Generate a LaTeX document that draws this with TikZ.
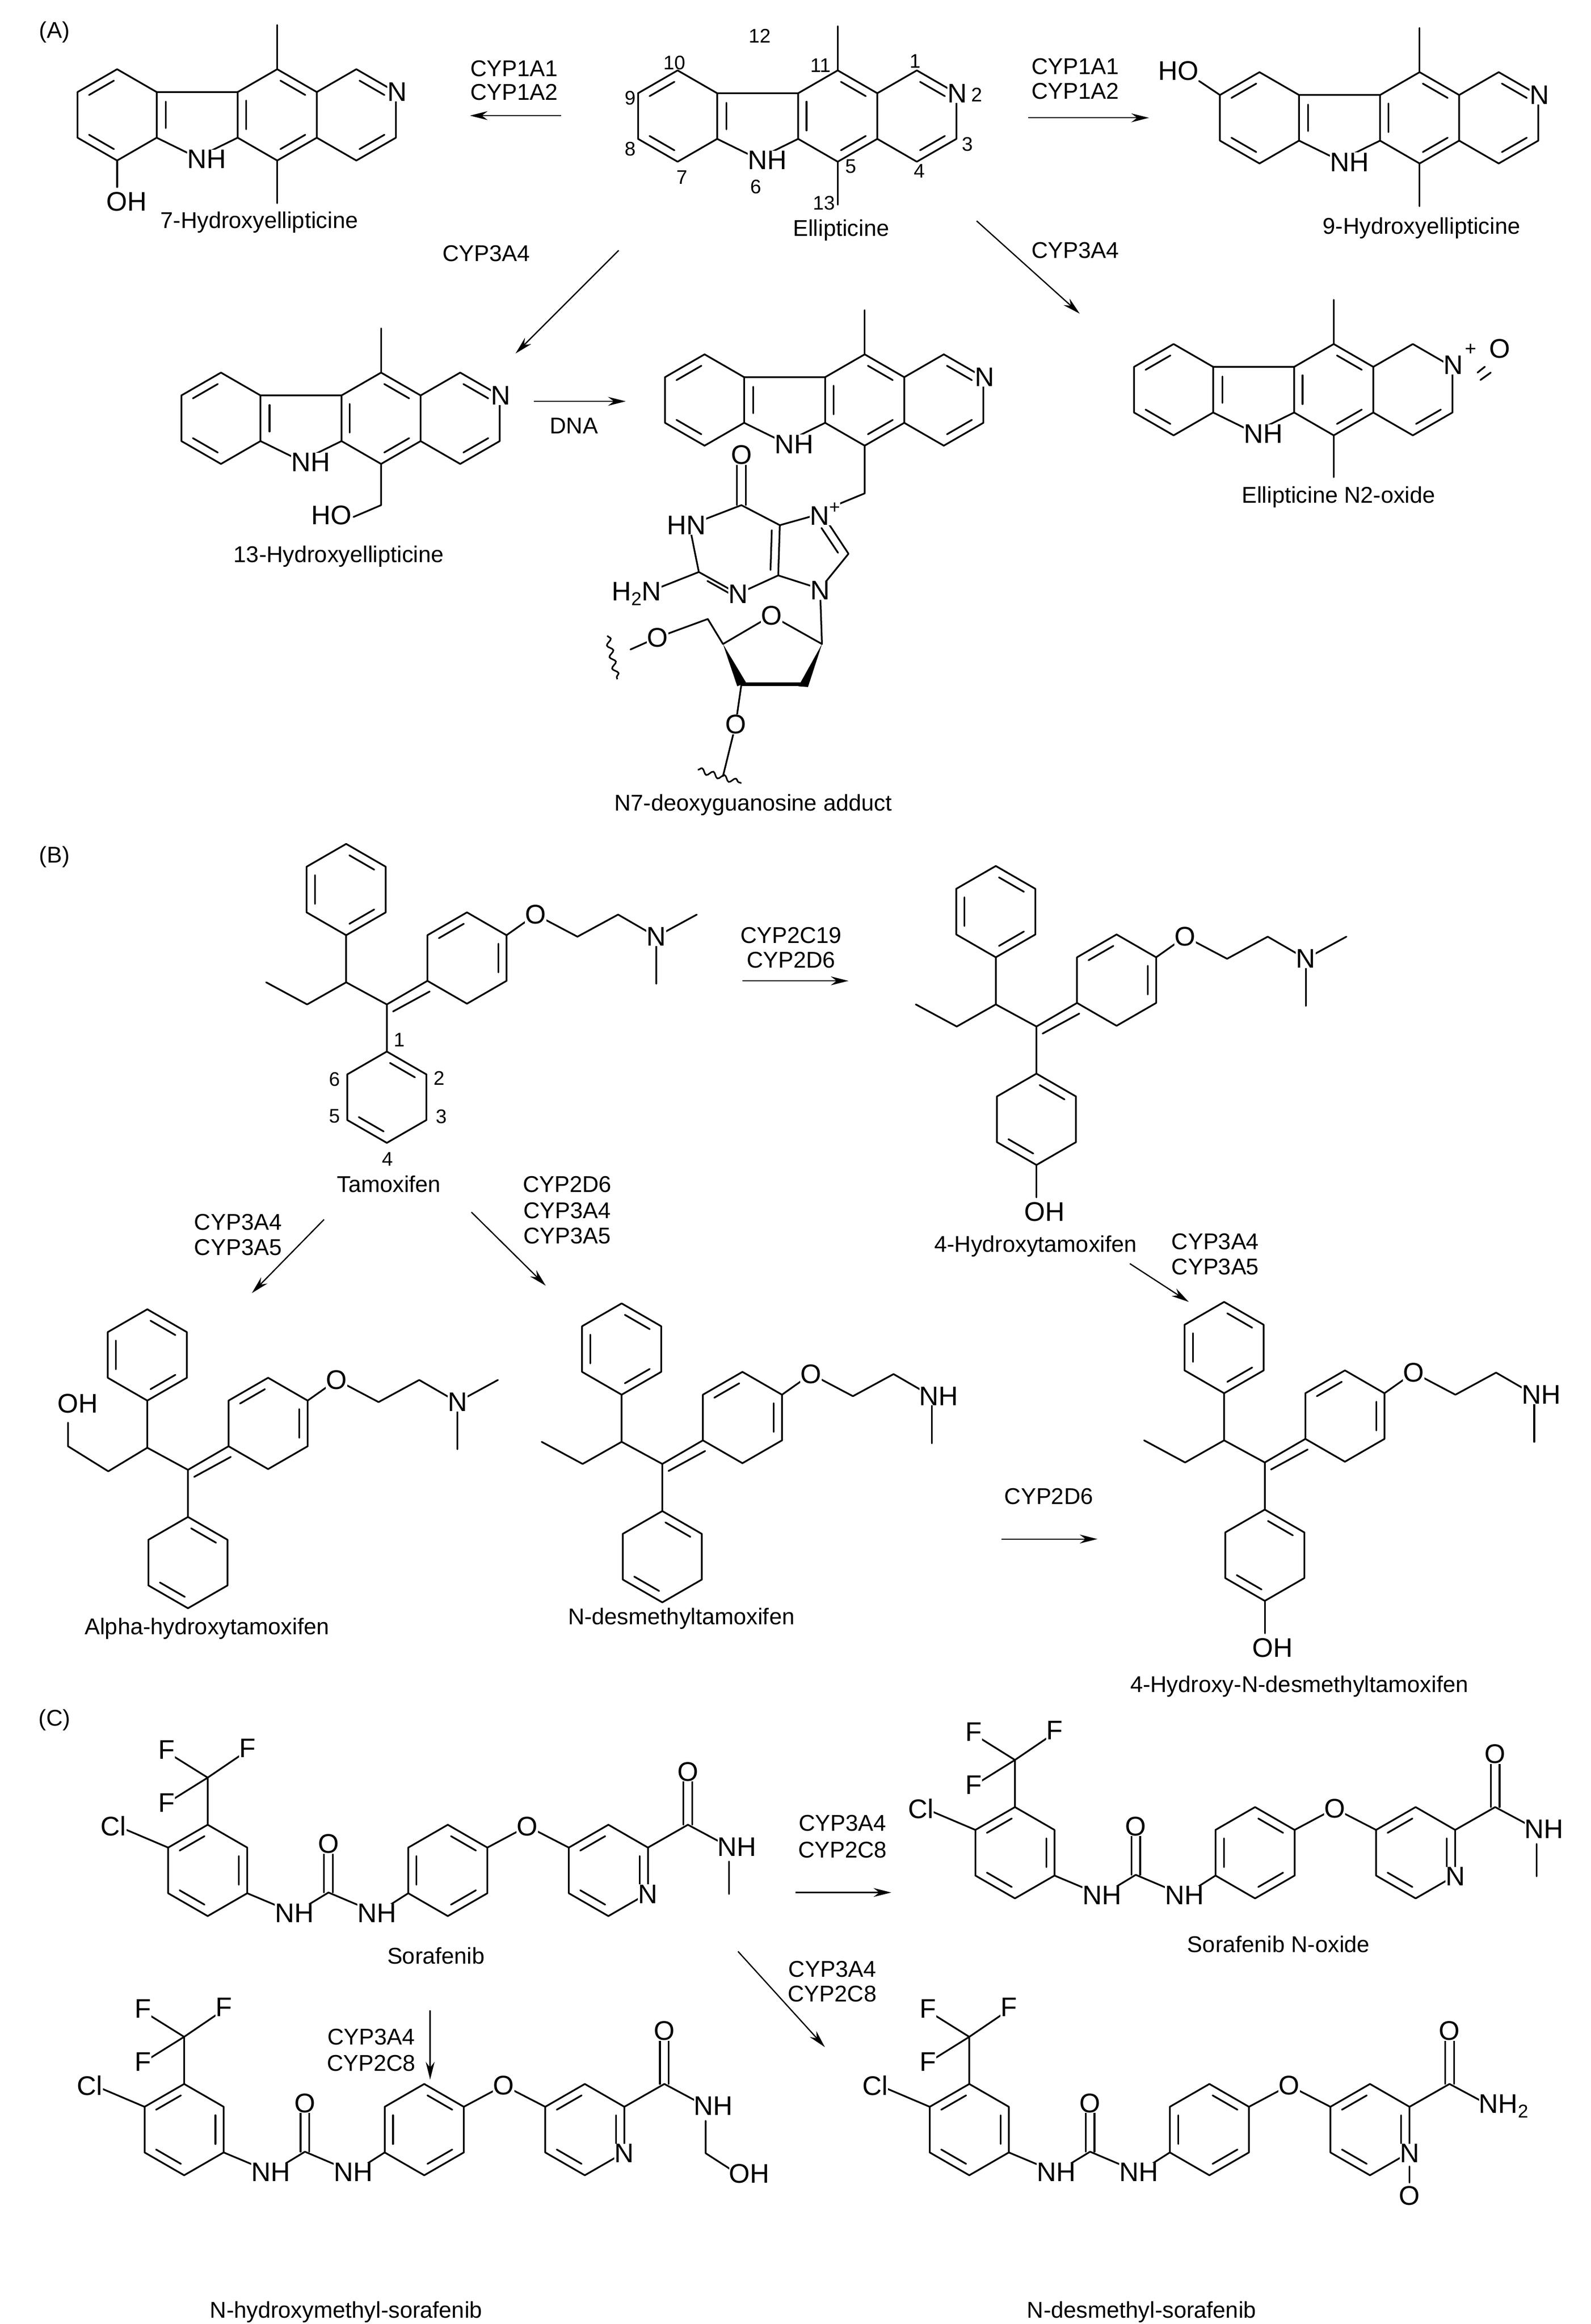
\documentclass[tikz,border=0pt]{standalone}
\usepackage{fontspec}
\setmainfont{Liberation Sans}
\usetikzlibrary{arrows.meta,decorations.pathmorphing}
\newcommand\afont{\fontsize{52}{56}\selectfont}
\newcommand\lfont{\fontsize{44}{50}\selectfont}
\newcommand\nfont{\fontsize{38}{42}\selectfont}
\newcommand\subtwo{\raisebox{-0.35ex}{\fontsize{36}{36}\selectfont 2}}
\newcommand\supplus{\raisebox{0.8ex}{\fontsize{36}{36}\selectfont +}}
\tikzset{
 bd/.style={line width=3.3pt, line cap=round, line join=round},
 atom/.style={font=\afont, fill=white, inner sep=0.5pt},
 lab/.style={font=\lfont, inner sep=0pt},
 num/.style={font=\nfont, inner sep=0pt},
 arr/.style={line width=2.4pt, -{Stealth[length=12mm,width=6mm]}},
 wavy/.style={line width=3pt, decorate, decoration={snake, amplitude=1.8mm, segment length=8mm}}
}
\newcommand\hexr[3]{\draw[bd] (#1,#2) ++(-90:31) -- ++(30:31) -- ++(90:31) -- ++(150:31) -- ++(210:31) -- ++(270:31) -- cycle;
 \foreach \q in {#3}{\inl{#1}{#2}{\q}}}
\newcommand\inl[3]{\draw[bd,shorten <=2.5mm,shorten >=2.5mm] (#1,#2) ++(#3:24.5) -- ++(#3+120:24.5);}
\newcommand\ellcore[3]{\begin{scope}[shift={(#2,#3)}]
 \draw[bd] (0,0) ++(-90:31) -- ++(30:31) -- ++(90:31) -- ++(150:31) -- ++(210:31) -- ++(270:31) -- cycle;
 \inl{0}{0}{210}\inl{0}{0}{90}
 \draw[bd] (26.85,-15.5)--(81.85,-15.5) (26.85,15.5)--(54.35,29)--(81.85,15.5);
 \draw[bd] (33,-9)--(33,9);
 \draw[bd] (81.85,-15.5)--(108.7,-31)--(135.55,-15.5)--(135.55,15.5)--(108.7,31)--(81.85,15.5)--cycle;
 \inl{108.7}{0}{150}\inl{108.7}{0}{-90}\inl{108.7}{0}{30}
 \draw[bd] (108.7,-31)--(108.7,-61);
 \draw[bd] (135.55,-15.5)--(162.4,-31)--(189.25,-15.5)--(189.25,15.5)--(162.4,31)--(135.55,15.5);
 \inl{162.4}{0}{30}
 \node[atom] (#1nh) at (61,30) {NH};
\end{scope}}
\newcommand\ellN[3]{\begin{scope}[shift={(#2,#3)}]\inl{162.4}{0}{-90}
 \node[atom] (#1n) at (190,-15.5) {N};\end{scope}}
\newcommand\tamcore[1]{
 \hexr{235}{604}{-90,150,30}
 \draw[bd] (235,635)--(235,667)--(262.6,682)--(262.6,714);
 \draw[bd,shorten <=1.5mm,shorten >=1.5mm] (265.5,687.5)--(293,672.5);
 \hexr{317}{650.5}{210,-30}
 \draw[bd] (262.6,682)--(290.15,666);
 \hexr{262.6}{745}{-90,90}
 \draw[bd] (343.85,635)--(363.6,621)--(392,636)--(419.6,621)--(445.5,636);
 \node[atom] (#1o) at (363.6,621) {O};}
\newcommand\sorcore[1]{
 \hexr{141}{1270}{210,-30,90}
 \draw[bd] (114.15,1254.5)--(80,1240);
 \node[atom] (#1cl) at (77,1240) {Cl};
 \draw[bd] (141,1239)--(141,1207)--(117,1192) (141,1207)--(163,1192) (141,1207)--(117,1222);
 \node[atom] (#1fa) at (113,1188) {F};
 \node[atom] (#1fb) at (168,1187) {F};
 \node[atom] (#1fc) at (113,1224) {F};
 \draw[bd] (167.85,1285.5)--(200,1299)--(223,1285)--(256,1299)--(277.15,1285.5);
 \draw[bd] (220,1285)--(220,1254) (226,1285)--(226,1254);
 \node[atom] (#1nha) at (200,1299) {NH};
 \node[atom] (#1nhb) at (256,1299) {NH};
 \node[atom] (#1ou) at (223,1252) {O};
 \hexr{304}{1270}{-90,30,150}
 \draw[bd] (330.85,1254.5)--(358,1240)--(386.15,1254.5);
 \node[atom] (#1oe) at (358,1240) {O};
 \hexr{413}{1270}{210,-30,90}
 \draw[bd] (439.85,1254.5)--(467,1239)--(495,1254);
 \draw[bd] (464,1239)--(464,1207) (470,1239)--(470,1207);
 \node[atom] (#1oa) at (467,1203) {O};
 \node[atom] (#1np) at (439.85,1286) {N};}
\begin{document}
\begin{tikzpicture}[x=1mm,y=-1mm]
\useasboundingbox[fill=white] (0,0) rectangle (1080,1578);
% ===== (A) =====
\node[lab] (pA) at (37,22) {(A)};
\ellcore{e}{460}{78.8}\ellN{e}{460}{78.8}
\draw[bd] (568.7,109.8)--(568.7,139);
\foreach \t/\x/\y in {12/515.7/24.4,10/457.8/42.6,11/557/44.3,1/621.2/41.5,2/663/64.2,9/427.8/66.5,8/427.8/101.2,7/462.9/120.5,6/513/127,5/577.5/113,4/624/116,3/656.7/97.8,13/559.3/138}
 \node[num] (en\t) at (\x,\y) {\t};
\node[lab] (eL) at (571,156.3) {Ellipticine};
% 7-hydroxy
\ellcore{h7}{79.5}{78}\ellN{h7}{79.5}{78}
\draw[bd] (188.2,109)--(188.2,138);
\draw[bd] (79.5,109)--(79.5,127);
\node[atom] (h7oh) at (86,137) {OH};
\node[lab] (h7L) at (176,151) {7-Hydroxyellipticine};
% 9-hydroxy
\ellcore{h9}{855}{80}\ellN{h9}{855}{80}
\draw[bd] (963.7,111)--(963.7,140);
\draw[bd] (828.15,64.5)--(814,55);
\node[atom] (h9oh) at (800,48) {HO};
\node[lab] (h9L) at (965,155) {9-Hydroxyellipticine};
% arrows top
\draw[arr] (381,78.5)--(319,78.5);
\node[lab] (c1a) at (349,46.6) {CYP1A1};
\node[lab] (c1b) at (349,62.5) {CYP1A2};
\draw[arr] (698,80)--(780,80);
\node[lab] (c2a) at (730,45) {CYP1A1};
\node[lab] (c2b) at (730,62) {CYP1A2};
\draw[arr] (420,170)--(350,240);
\node[lab] (c3) at (330,172) {CYP3A4};
\draw[arr] (663,150)--(733,213);
\node[lab] (c4) at (730,170) {CYP3A4};
% 13-hydroxy
\ellcore{h13}{150}{284}\ellN{h13}{150}{284}
\draw[bd] (258.7,315)--(258.7,343)--(240,351);
\node[atom] (h13oh) at (225,350) {HO};
\node[lab] (h13L) at (230,378) {13-Hydroxyellipticine};
\draw[arr] (362.3,272.5)--(424.8,272.5);
\node[lab] (dna) at (389.6,289) {DNA};
% adduct
\ellcore{ad}{478.3}{271.6}\ellN{ad}{478.3}{271.6}
\draw[bd] (587,302.6)--(587,335)--(570,342);
\draw[bd] (503.3,343)--(468,356.6)--(474.4,388.4)--(501,403.2)--(528.3,390.7)--(529.4,356.6)--(503.3,343);
\draw[bd] (500.3,343)--(500.3,313) (506.3,343)--(506.3,313);
\draw[bd,shorten <=2mm,shorten >=2mm] (478.5,393.5)--(498,404.5);
\draw[bd,shorten <=2mm,shorten >=2mm] (523,389)--(524,358);
\draw[bd] (474.4,388.4)--(440,402);
\draw[bd] (529.4,356.6)--(557.9,348.6)--(576,376)--(556.7,399.8)--(528.3,390.7);
\draw[bd,shorten <=3mm,shorten >=2mm] (556,356)--(570,377);
\draw[bd] (556.7,399.8)--(558,437.3)--(523.7,418)--(490.8,437.3)--(480.5,420.3)--(446.4,432.8)--(428,441);
\fill (490.8,437.3)--(500.5,466)--(506.5,463.5)--cycle;
\draw[line width=8pt] (503.3,464.6)--(545.3,464.6);
\fill (558,437.3)--(542,466)--(548.5,466.5)--cycle;
\draw[bd] (503.3,464.6)--(499.4,491.9)--(490.8,527);
\draw[wavy] (412.3,431.6)--(419,461.2);
\draw[wavy] (473.7,522.6)--(503.3,531.7);
\node[atom] (ado) at (503.3,309) {O};
\node[atom] (adhn) at (466,356.6) {HN};
\node[atom] (adh2n) at (432,403.2) {H\subtwo N};
\node[atom] (adn3) at (501,403.2) {N};
\node[atom] (adn7) at (560,349) {N\supplus};
\node[atom] (adn9) at (556.7,401) {N};
\node[atom] (ado4) at (523.7,418) {O};
\node[atom] (ado5) at (446.4,432.8) {O};
\node[atom] (ado3) at (499.4,491.9) {O};
\node[lab] (adL) at (511.3,546.5) {N7-deoxyguanosine adduct};
% N2-oxide
\ellcore{no}{796.7}{264.6}
\draw[bd] (905.4,295.6)--(905.4,324);
\node[atom] (non) at (986.5,248) {N};
\node[num] (nop) at (998.3,237.3) {+};
\draw[bd] (1003,253)--(1008,249) (1005,258)--(1012,253);
\node[atom] (noo) at (1018,236.7) {O};
\node[lab] (noL) at (908.7,337.4) {Ellipticine N2-oxide};
% ===== (B) =====
\node[lab] (pB) at (37,582) {(B)};
\tamcore{t}
\draw[bd] (235,667)--(208.5,682)--(180.7,667);
\draw[bd] (445.5,636)--(473,621) (445.5,636)--(445.5,668);
\node[atom] (tn) at (445.5,636) {N};
\foreach \t/\x/\y in {1/271/706,2/298/732,3/299.5/758,4/263/787,5/227/758,6/227/733}
 \node[num] (tnum\t) at (\x,\y) {\t};
\node[lab] (tL) at (264,804) {Tamoxifen};
\draw[arr] (504,666)--(576,666);
\node[lab] (c5a) at (537,635) {CYP2C19};
\node[lab] (c5b) at (537,652) {CYP2D6};
\begin{scope}[shift={(441,15)}]
\tamcore{h4}
\draw[bd] (235,667)--(208.5,682)--(180.7,667);
\draw[bd] (445.5,636)--(473,621) (445.5,636)--(445.5,668);
\node[atom] (h4n) at (445.5,636) {N};
\draw[bd] (262.6,776)--(262.6,798);
\node[atom] (h4oh) at (268,808) {OH};
\node[lab] (h4L) at (262,831) {4-Hydroxytamoxifen};
\end{scope}
\draw[arr] (220,828)--(171,878);
\node[lab] (c6a) at (161.6,830) {CYP3A4};
\node[lab] (c6b) at (161.6,847) {CYP3A5};
\draw[arr] (320,823)--(370.5,873);
\node[lab] (c7a) at (385,804) {CYP2D6};
\node[lab] (c7b) at (385,822) {CYP3A4};
\node[lab] (c7c) at (385,839) {CYP3A5};
\draw[arr] (767,858)--(807,884);
\node[lab] (c8a) at (825,843) {CYP3A4};
\node[lab] (c8b) at (825,860) {CYP3A5};
\begin{scope}[shift={(-135,316)}]
\tamcore{ah}
\draw[bd] (235,667)--(208.5,683)--(181.2,666)--(181.2,650);
\node[atom] (ahoh) at (187.7,637) {OH};
\draw[bd] (445.5,636)--(473,621) (445.5,636)--(445.5,668);
\node[atom] (ahn) at (445.5,636) {N};
\end{scope}
\node[lab] (ahL) at (140.5,1106) {Alpha-hydroxytamoxifen};
\begin{scope}[shift={(187,312)}]
\tamcore{nd}
\draw[bd] (235,667)--(208.5,682)--(180.7,667);
\draw[bd] (445.5,642)--(445.5,668);
\node[atom, anchor=west, inner sep=0pt] (ndn) at (437,636) {NH};
\end{scope}
\node[lab] (ndL) at (462.5,1099) {N-desmethyltamoxifen};
\draw[arr] (680,1045)--(745,1045);
\node[lab] (c9) at (712,1016) {CYP2D6};
\begin{scope}[shift={(596,311)}]
\tamcore{hd}
\draw[bd] (235,667)--(208.5,682)--(180.7,667);
\draw[bd] (445.5,642)--(445.5,668);
\node[atom, anchor=west, inner sep=0pt] (hdn) at (437,636) {NH};
\draw[bd] (262.6,776)--(262.6,798);
\node[atom] (hdoh) at (268,808) {OH};
\end{scope}
\node[lab] (hdL) at (882,1145) {4-Hydroxy-N-desmethyltamoxifen};
% ===== (C) =====
\node[lab] (pC) at (37,1168) {(C)};
\sorcore{s}
\draw[bd] (495,1264)--(495,1286);
\node[atom, anchor=west, inner sep=0pt] (snh) at (487,1254) {NH};
\node[lab] (sL) at (296,1328) {Sorafenib};
\begin{scope}[shift={(548,-12)}]
\sorcore{so}
\draw[bd] (495,1264)--(495,1286);
\node[atom, anchor=west, inner sep=0pt] (sonh) at (487,1254) {NH};
\end{scope}
\node[lab] (soL) at (868,1320) {Sorafenib N-oxide};
\draw[arr] (540,1285)--(605,1285);
\node[lab] (c10a) at (572,1238) {CYP3A4};
\node[lab] (c10b) at (572,1256) {CYP2C8};
\draw[arr] (501,1325)--(560,1390);
\node[lab] (c11a) at (565,1337) {CYP3A4};
\node[lab] (c11b) at (565,1354) {CYP2C8};
\draw[arr] (292,1365)--(292,1412);
\node[lab] (c12a) at (252,1383) {CYP3A4};
\node[lab] (c12b) at (252,1401) {CYP2C8};
\begin{scope}[shift={(-16,176)}]
\sorcore{sh}
\draw[bd] (495,1264)--(495,1286)--(512,1297);
\node[atom, anchor=west, inner sep=0pt] (shnh) at (487,1254) {NH};
\node[atom, anchor=west, inner sep=0pt] (shoh) at (511,1300) {OH};
\end{scope}
\node[lab] (shL) at (235,1570) {N-hydroxymethyl-sorafenib};
\begin{scope}[shift={(517,176)}]
\sorcore{sd}
\draw[bd] (439.85,1295)--(439.85,1306);
\node[atom] (sdo) at (439.85,1315) {O};
\node[atom, anchor=west, inner sep=0pt] (sdnh) at (487,1254) {NH\subtwo};
\end{scope}
\node[lab] (sdL) at (775,1570) {N-desmethyl-sorafenib};
\end{tikzpicture}
\end{document}
